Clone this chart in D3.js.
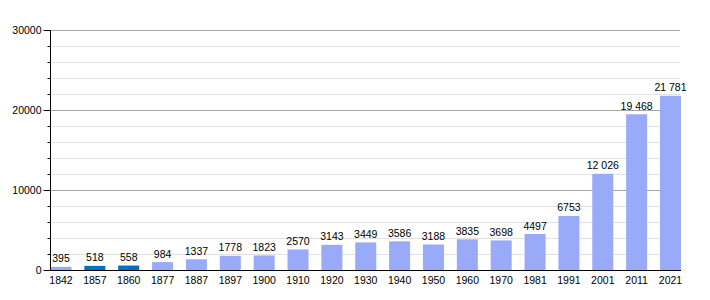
<!DOCTYPE html>
<html>
<head>
<meta charset="utf-8">
<script src="https://cdn.jsdelivr.net/npm/d3@7"></script>
<style>
  html, body { margin: 0; padding: 0; background: #fff; }
  svg { display: block; font-family: "Liberation Sans", Arial, sans-serif; }
</style>
</head>
<body>
<svg id="chart" width="710" height="300"></svg>
<script>
const years = ["1842","1857","1860","1877","1887","1897","1900","1910","1920","1930","1940","1950","1960","1970","1981","1991","2001","2011","2021"];
const population = [395,518,558,984,1337,1778,1823,2570,3143,3449,3586,3188,3835,3698,4497,6753,12026,19468,21781];
const highlighted = ["1857","1860"];
const yMajorTicks = [0,10000,20000,30000];
const yMinorTicks = [2000,4000,6000,8000,12000,14000,16000,18000,22000,24000,26000,28000];

const svg = d3.select("#chart");
const mLeft = 50, mRight = 681, mTop = 30, mBottom = 270;

const x = d3.scaleBand().domain(years).range([50.5, mRight]).paddingInner(0.38).paddingOuter(0);
const y = d3.scaleLinear().domain([0, 30000]).range([mBottom, mTop]);

const fmt = v => v >= 10000 ? d3.format(",")(v).replace(/,/g, " ") : String(v);

// minor gridlines
svg.append("g").selectAll("line").data(yMinorTicks).join("line")
  .attr("x1", mLeft).attr("x2", mRight - 1)
  .attr("y1", d => Math.round(y(d)) + 0.5).attr("y2", d => Math.round(y(d)) + 0.5)
  .attr("stroke", "#e2e2e2").attr("stroke-width", 1);

// major gridlines
svg.append("g").selectAll("line").data(yMajorTicks.filter(d => d > 0)).join("line")
  .attr("x1", mLeft).attr("x2", mRight - 1)
  .attr("y1", d => Math.round(y(d)) + 0.5).attr("y2", d => Math.round(y(d)) + 0.5)
  .attr("stroke", "#a8a8a8").attr("stroke-width", 1);

// bars
svg.append("g").selectAll("rect").data(years).join("rect")
  .attr("x", d => x(d))
  .attr("width", x.bandwidth())
  .attr("y", (d, i) => y(population[i]))
  .attr("height", (d, i) => mBottom - y(population[i]))
  .attr("fill", d => highlighted.includes(d) ? "#0072bc" : "#99aaf9");

// value labels
svg.append("g").selectAll("text").data(years).join("text")
  .attr("x", d => x(d) + x.bandwidth() / 2)
  .attr("y", (d, i) => y(population[i]) - 4.5)
  .attr("text-anchor", "middle")
  .attr("font-size", "10.5px")
  .attr("fill", "#000")
  .text((d, i) => fmt(population[i]));

// x axis
const xAxis = d3.axisBottom(x).tickSize(0).tickPadding(7);
const gx = svg.append("g").attr("transform", `translate(0,${mBottom})`).call(xAxis);
gx.select(".domain").remove();
gx.selectAll("text").attr("font-size", "10.5px").attr("font-family", "Liberation Sans, Arial, sans-serif").attr("fill", "#000");
svg.append("line").attr("x1", mLeft).attr("x2", mRight).attr("y1", mBottom + 0.5).attr("y2", mBottom + 0.5).attr("stroke", "#000");

// y axis
const yAxis = d3.axisLeft(y).tickValues(yMajorTicks).tickSize(7).tickPadding(2).tickFormat(d => String(d));
const gy = svg.append("g").attr("transform", `translate(${mLeft + 0.5},0)`).call(yAxis);
gy.select(".domain").remove();
gy.selectAll("text").attr("font-size", "10.5px").attr("font-family", "Liberation Sans, Arial, sans-serif").attr("fill", "#000");
gy.selectAll("line").attr("stroke", "#000");
const yMinor = d3.axisLeft(y).tickValues(yMinorTicks).tickSize(3).tickFormat("");
const gym = svg.append("g").attr("transform", `translate(${mLeft + 0.5},0)`).call(yMinor);
gym.select(".domain").remove();
gym.selectAll("line").attr("stroke", "#000");
svg.append("line").attr("x1", mLeft + 0.5).attr("x2", mLeft + 0.5).attr("y1", mTop).attr("y2", mBottom + 1).attr("stroke", "#000");
</script>
</body>
</html>
